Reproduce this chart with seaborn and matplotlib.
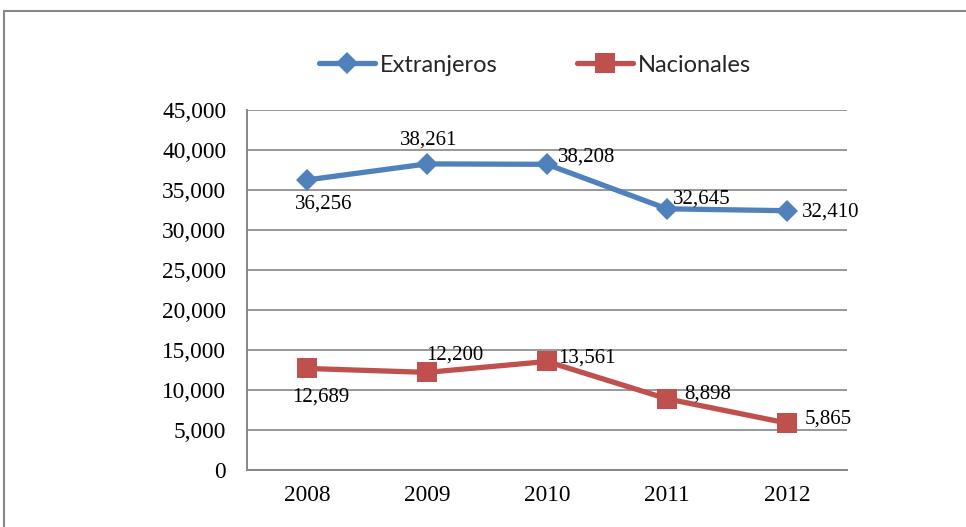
import pandas as pd
import matplotlib.pyplot as plt
import matplotlib.patches as patches
import seaborn as sns

# data
years = ['2008', '2009', '2010', '2011', '2012']
extranjeros = [36256, 38261, 38208, 32645, 32410]
nacionales = [12689, 12200, 13561, 8898, 5865]

# label offsets in pixels (label placement, not data)
ext_offsets = [(17, -24), (2, 24), (40, 7), (35, 10), (44, -1)]
nac_offsets = [(14, -29), (28, 17), (40, 3), (41, 5), (41, 4)]

df = pd.DataFrame({
    'year': years * 2,
    'value': extranjeros + nacionales,
    'serie': ['Extranjeros'] * 5 + ['Nacionales'] * 5,
})

sns.set_style('white')
plt.rcParams['font.family'] = ['Liberation Serif', 'DejaVu Serif']

fig = plt.figure(figsize=(9.66, 5.27), dpi=100)
ax = fig.add_axes([0.2557, 0.1082, 0.621, 0.6831])

styles = {
    'Extranjeros': ('#4F81BD', 'D', 11.5),
    'Nacionales': ('#C0504D', 's', 14),
}
for name, (col, mk, ms) in styles.items():
    sns.lineplot(data=df[df['serie'] == name], x='year', y='value',
                 color=col, marker=mk, markersize=ms, markeredgewidth=0,
                 linewidth=3.8, label=name, ax=ax, sort=False)

for vals, offs in [(extranjeros, ext_offsets), (nacionales, nac_offsets)]:
    for i, (v, o) in enumerate(zip(vals, offs)):
        ax.annotate(f'{v:,}', (i, v), xytext=o, textcoords='offset pixels',
                    ha='center', va='center', fontsize=15, color='black')

ax.set_xlim(-0.5, 4.5)
ax.set_ylim(0, 45000)
ax.set_yticks(range(0, 45001, 5000))
ax.yaxis.set_major_formatter(plt.FuncFormatter(lambda v, p: f'{int(v):,}'))
ax.grid(axis='y', color='#868686', linewidth=1.2)
ax.grid(axis='x', visible=False)
ax.tick_params(axis='both', length=0, labelsize=16.8, labelcolor='black')
ax.tick_params(axis='x', pad=11)
ax.tick_params(axis='y', pad=15)
ax.set_xlabel('')
ax.set_ylabel('')
for s in ['top', 'right']:
    ax.spines[s].set_visible(False)
for s in ['left', 'bottom']:
    ax.spines[s].set_color('#868686')
    ax.spines[s].set_linewidth(1.4)

handles, labels = ax.get_legend_handles_labels()
ax.legend(handles, labels, loc='center', bbox_to_anchor=(535 / 966, 1 - 65 / 527),
          bbox_transform=fig.transFigure, ncol=2, frameon=False,
          prop={'family': 'Lato', 'size': 17}, handlelength=2.35,
          handletextpad=0.2, columnspacing=3.4)

# outer chart frame
fig.patches.append(patches.Rectangle((4 / 966, -0.1), 1.1, 1 - 11 / 527 + 0.1,
                                     transform=fig.transFigure, fill=False,
                                     edgecolor='#878787', linewidth=1.5))

fig.savefig('out.png', dpi=100)
